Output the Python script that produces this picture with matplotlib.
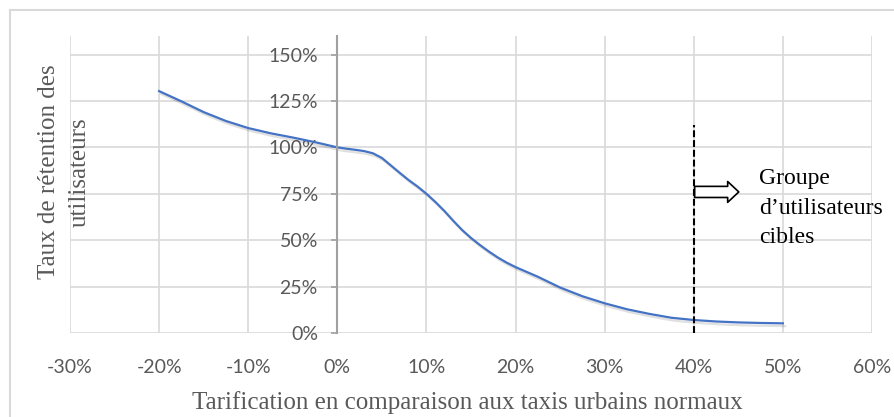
import matplotlib
matplotlib.use("Agg")
import matplotlib.pyplot as plt
from matplotlib.lines import Line2D
from matplotlib.ticker import FuncFormatter
import matplotlib.patheffects as pe

# données (tarif relatif en %, rétention en %)
tarif = [-20, -17.5, -15, -12.5, -10, -7.5, -5, -2.5, 0, 1, 2, 3, 4, 5, 6, 7, 8, 9, 10,
         11, 12, 13, 14, 15, 16, 17, 18, 19, 20, 22.5, 25, 27.5, 30, 32.5, 35, 37.5,
         40, 42.5, 45, 47.5, 50]
retention = [130.3, 124.8, 119, 114.2, 110.4, 107.6, 105.3, 102.8, 100, 99.3, 98.7, 98,
             96.8, 94.3, 90.3, 86.3, 82.4, 78.9, 75, 70.6, 65.8, 60.5, 55.5, 51.2, 47.4, 43.9,
             40.7, 37.9, 35.5, 30.3, 24.5, 19.8, 16, 12.8, 10.3, 8.2, 7, 6.2, 5.7, 5.4, 5.2]
xticks = [-30, -20, -10, 0, 10, 20, 30, 40, 50, 60]
yticks = [0, 25, 50, 75, 100, 125, 150]
seuil = 40
seuil_haut = 112

gris = '#595959'
serif = 'Liberation Serif'
sans = 'Lato'

W, H = 895, 417
fig = plt.figure(figsize=(W / 100, H / 100), dpi=100)
ax = fig.add_axes([70 / W, 1 - 333 / H, (872 - 70) / W, (333 - 36) / H])

ax.set_xlim(-30, 60)
ax.set_ylim(0, 160)
ax.set_xticks(xticks)
ax.set_yticks(yticks)
ax.xaxis.set_major_formatter(FuncFormatter(lambda v, p: f'{v:.0f}%'))
ax.yaxis.set_major_formatter(FuncFormatter(lambda v, p: f'{v:.0f}%'))

ax.grid(True, color='#d9d9d9', lw=1.2)
ax.set_axisbelow(True)
for s in ['top', 'right', 'bottom']:
    ax.spines[s].set_visible(False)
ax.spines['left'].set_position(('data', 0))
ax.spines['left'].set_color('#a0a0a0')
ax.spines['left'].set_linewidth(1.5)
ax.tick_params(axis='y', direction='out', length=4, width=1.2, color='#a0a0a0',
               pad=10, labelsize=14, labelcolor=gris)
ax.tick_params(axis='x', length=0, pad=19, labelsize=14, labelcolor=gris)
for lab in ax.get_xticklabels() + ax.get_yticklabels():
    lab.set_fontfamily(sans)

ax.plot(tarif, retention, color='#4472C4', lw=1.6, solid_joinstyle='round',
        path_effects=[pe.SimpleLineShadow(offset=(1.5, -2), shadow_color='black', alpha=0.12),
                      pe.Normal()])

ax.vlines(seuil, 0, seuil_haut, colors='black', lw=1.5, linestyles=(0, (3.3, 1.4)))
ax.annotate('', xy=(45.05, 76), xytext=(40.1, 76),
            arrowprops=dict(arrowstyle='simple,head_length=8,head_width=15,tail_width=8',
                            fc='white', ec='black', lw=1.2, shrinkA=0, shrinkB=0,
                            mutation_scale=1))
ax.text(47.3, 89, 'Groupe\nd’utilisateurs\ncibles', family=serif, fontsize=17,
        color='black', va='top', ha='left', linespacing=1.55)

fig.text(467 / W, 1 - 403 / H, 'Tarification en comparaison aux taxis urbains normaux',
         family=serif, fontsize=18, color=gris, ha='center', va='center')
fig.text(64 / W, 1 - 172 / H, 'Taux de rétention des\nutilisateurs', family=serif,
         fontsize=18, color=gris, rotation=90, ha='center', va='center',
         multialignment='center', linespacing=1.5)

# cadre du graphique (bords haut et gauche visibles)
fig.add_artist(Line2D([10 / W, 1], [1 - 10 / H, 1 - 10 / H], color='#d9d9d9', lw=1.5,
                      transform=fig.transFigure))
fig.add_artist(Line2D([10 / W, 10 / W], [0, 1 - 10 / H], color='#d9d9d9', lw=1.5,
                      transform=fig.transFigure))

fig.savefig('out.png', dpi=100)
